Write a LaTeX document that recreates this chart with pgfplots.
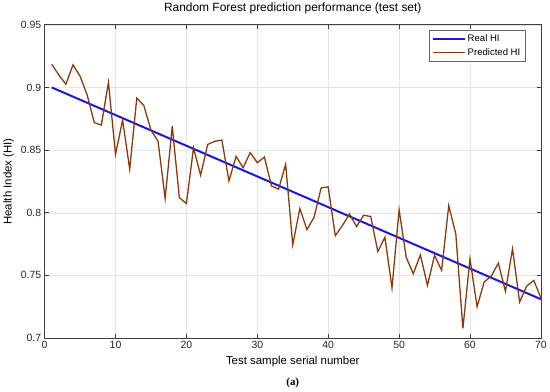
\documentclass[border=0pt]{standalone}
\usepackage{fontspec}
\setmainfont{Liberation Sans}
\newfontfamily\capfont{Liberation Serif}
\usepackage{pgfplots}
\pgfplotsset{compat=1.18}
\definecolor{realc}{rgb}{0.1,0.1,0.85}
\definecolor{predc}{rgb}{0.55,0.22,0.05}
\definecolor{axc}{rgb}{0.25,0.25,0.25}
\begin{document}
\begin{tikzpicture}
\path (-44pt,-53pt) rectangle (506pt,333pt);
\begin{axis}[
  at={(0,0)}, anchor=south west,
  scale only axis, width=499pt, height=315pt,
  xmin=0, xmax=70, ymin=0.7, ymax=0.95,
  xtick={0,10,...,70},
  ytick={0.7,0.75,0.8,0.85,0.9,0.95},
  yticklabels={0.7,0.75,0.8,0.85,0.9,0.95},
  /pgf/number format/assume math mode=true,
  tick label style={font=\fontsize{10.5}{12}\selectfont, color=black!85},
  title style={font=\fontsize{12}{14}\selectfont, at={(0.5,1)}, anchor=center, yshift=10pt},
  title={Random Forest prediction performance (test set)},
  xlabel={Test sample serial number},
  ylabel={Health Index (HI)},
  xlabel style={font=\fontsize{11.5}{13}\selectfont, yshift=-0.5pt},
  ylabel style={font=\fontsize{11.5}{13}\selectfont, yshift=0pt},
  grid=major,
  major grid style={color=black!10, line width=0.5pt},
  axis line style={color=axc, line width=0.6pt},
  tick style={color=axc, line width=0.6pt},
  tick align=inside,
  major tick length=4pt,
  legend style={at={(0.968,0.984)}, anchor=north east, font=\fontsize{9.6}{11}\selectfont,
    draw=black!60, line width=0.5pt, inner sep=2.5pt, row sep=1.5pt, cells={anchor=west}},
  legend cell align=left,
  legend image code/.code={\draw[#1] (0pt,0pt) -- (32pt,0pt);},
]
\addplot[realc, line width=2pt] coordinates {(1,0.900) (70,0.731)};
\addlegendentry{Real HI}
\addplot[predc, line width=1.3pt] coordinates {
(1,0.9185) (2,0.910) (3,0.9026) (4,0.918) (5,0.909) (6,0.894) (7,0.872) (8,0.870) (9,0.904) (10,0.8466)
(11,0.874) (12,0.8347) (13,0.8915) (14,0.8855) (15,0.866) (16,0.857) (17,0.8113) (18,0.869) (19,0.812) (20,0.8074)
(21,0.8518) (22,0.830) (23,0.8545) (24,0.857) (25,0.858) (26,0.8254) (27,0.845) (28,0.836) (29,0.848) (30,0.840)
(31,0.8444) (32,0.8214) (33,0.8188) (34,0.8386) (35,0.7744) (36,0.8034) (37,0.7865) (38,0.7963) (39,0.8198) (40,0.8206)
(41,0.7817) (42,0.7897) (43,0.799) (44,0.789) (45,0.798) (46,0.797) (47,0.769) (48,0.7804) (49,0.740) (50,0.8024)
(51,0.7645) (52,0.7513) (53,0.7664) (54,0.742) (55,0.766) (56,0.754) (57,0.8056) (58,0.783) (59,0.7077) (60,0.7632)
(61,0.725) (62,0.7447) (63,0.7494) (64,0.7598) (65,0.7373) (66,0.7712) (67,0.7288) (68,0.7415) (69,0.746) (70,0.732)
};
\addlegendentry{Predicted HI}
\end{axis}
\node[font=\capfont\bfseries\fontsize{11}{13}\selectfont] at (249.5pt,-45pt) {(a)};
\end{tikzpicture}
\end{document}
